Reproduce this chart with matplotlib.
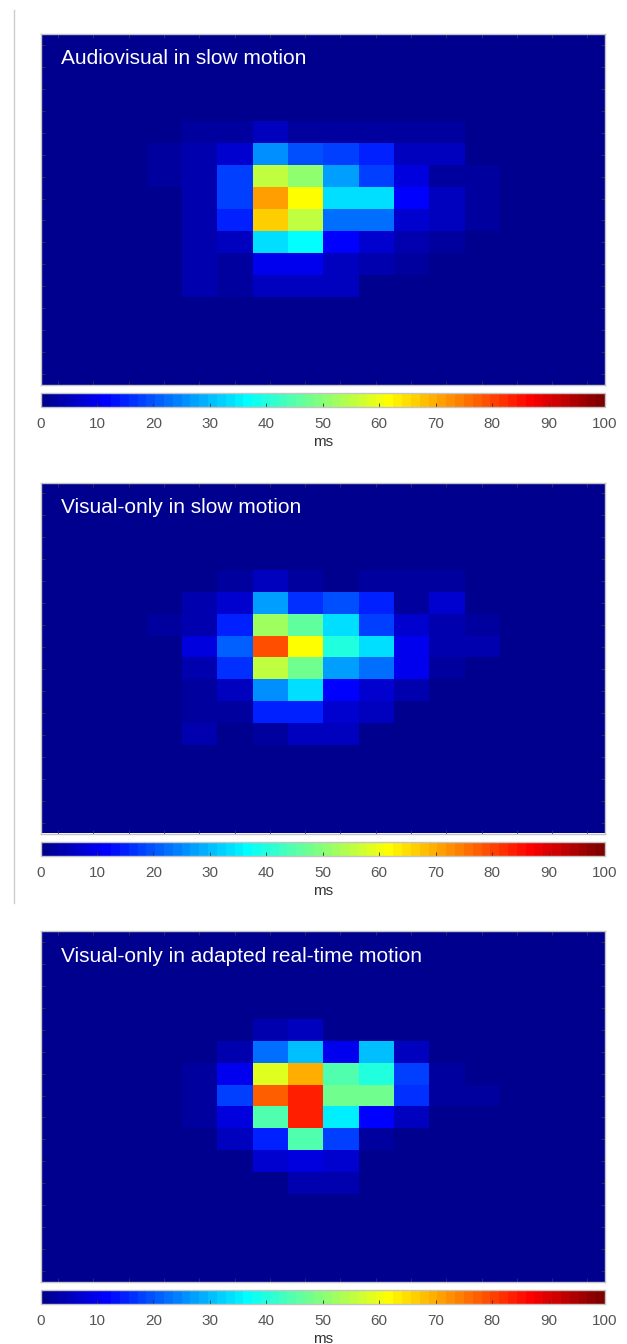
import numpy as np
import matplotlib
matplotlib.use("Agg")
import matplotlib.pyplot as plt
from matplotlib.colors import LinearSegmentedColormap, ListedColormap
from matplotlib.lines import Line2D

plt.rcParams['font.family'] = ['Liberation Sans', 'DejaVu Sans']

titles = ["Audiovisual in slow motion",
          "Visual-only in slow motion",
          "Visual-only in adapted real-time motion"]

colorbar_ticks = [0, 10, 20, 30, 40, 50, 60, 70, 80, 90, 100]
colorbar_label = "ms"

# 16 x 16 grids (rows top->bottom, columns left->right), values in ms
z = [0] * 16
audiovisual_slow = [
    z, z, z, z,
    [0, 0, 0, 0, 2.5, 2.5, 5.5, 2.5, 2.5, 2.5, 2.5, 2.5, 0, 0, 0, 0],
    [0, 0, 0, 2.5, 4, 7, 26, 20, 17.5, 14.5, 5, 5.5, 0, 0, 0, 0],
    [0, 0, 0, 2.5, 4, 18.5, 55, 51.5, 28, 17.5, 9, 2.5, 2.5, 0, 0, 0],
    [0, 0, 0, 0, 4, 17.5, 71, 61, 34, 34, 11.5, 5.5, 2.5, 0, 0, 0],
    [0, 0, 0, 0, 4, 14.5, 67, 55, 23.3, 23.3, 7, 5, 2.5, 0, 0, 0],
    [0, 0, 0, 0, 4, 5, 34, 36, 11.5, 7, 4, 2.5, 0, 0, 0, 0],
    [0, 0, 0, 0, 4, 2.5, 10, 10, 5.5, 4, 2.5, 0, 0, 0, 0, 0],
    [0, 0, 0, 0, 4, 2.5, 5, 5.5, 5.5, 0, 0, 0, 0, 0, 0, 0],
    z, z, z, z,
]
visual_slow = [
    z, z, z, z,
    [0, 0, 0, 0, 0, 2.5, 5, 2.5, 1, 2.5, 2.5, 2.5, 0, 0, 0, 0],
    [0, 0, 0, 0, 4, 7, 27, 16.4, 20.3, 15.4, 2.5, 7, 0, 0, 0, 0],
    [0, 0, 0, 2.5, 4, 15.4, 51.7, 45.8, 33, 17.4, 7, 4, 2.5, 0, 0, 0],
    [0, 0, 0, 0, 8.6, 21.3, 78.7, 61, 39.5, 34, 9.4, 4, 4, 0, 0, 0],
    [0, 0, 0, 0, 4, 16.4, 55, 47.3, 28, 23.3, 10, 2.5, 0, 0, 0, 0],
    [0, 0, 0, 0, 2.5, 5, 26, 33, 11.5, 7, 4, 0, 0, 0, 0, 0],
    [0, 0, 0, 0, 2.5, 2.5, 15.4, 15.4, 7, 5.5, 0, 0, 0, 0, 0, 0],
    [0, 0, 0, 0, 4, 1, 2.5, 5, 5, 0, 0, 0, 0, 0, 0, 0],
    z, z, z, z,
]
visual_realtime = [
    z, z, z, z,
    [0, 0, 0, 0, 0, 0, 4, 5, 0, 0, 0, 0, 0, 0, 0, 0],
    [0, 0, 0, 0, 0, 4, 23.3, 31, 10, 31, 5.5, 0, 0, 0, 0, 0],
    [0, 0, 0, 0, 2.5, 10, 59, 69, 44.4, 39.5, 17.4, 2.5, 0, 0, 0, 0],
    [0, 0, 0, 0, 2.5, 18.4, 76.7, 83.6, 47.3, 47.3, 16.4, 2.5, 2.5, 0, 0, 0],
    [0, 0, 0, 0, 2.5, 9, 44.4, 83.6, 35, 11.5, 5.5, 0, 0, 0, 0, 0],
    [0, 0, 0, 0, 0, 5, 14.5, 44.4, 17.4, 2.5, 1, 0, 0, 0, 0, 0],
    [0, 0, 0, 0, 0, 0, 7, 8.6, 7, 0, 0, 0, 0, 0, 0, 0],
    [0, 0, 0, 0, 0, 0, 1, 4, 4, 0, 0, 0, 0, 0, 0, 0],
    z, z, z, z,
]
panels = [audiovisual_slow, visual_slow, visual_realtime]

# MATLAB-style jet(64)
_jet = {
    'red':   [(0, 0, 0), (0.375, 0, 0), (0.625, 1, 1), (0.875, 1, 1), (1, 0.5, 0.5)],
    'green': [(0, 0, 0), (0.125, 0, 0), (0.375, 1, 1), (0.625, 1, 1), (0.875, 0, 0), (1, 0, 0)],
    'blue':  [(0, 0.5, 0.5), (0.125, 1, 1), (0.375, 1, 1), (0.625, 0, 0), (1, 0, 0)],
}
base = LinearSegmentedColormap('mjet', _jet, N=1024)
cmap = ListedColormap(base(np.arange(1, 65) / 64.0)[:, :3], name='mjet64')

W, H = 627, 1344
fig = plt.figure(figsize=(W / 100, H / 100), dpi=100)

left_px, right_px = 40.5, 605
panel_tops = [34, 482.5, 931]
panel_h = 351


def fx(px):
    return px / W


def fy(py):
    return 1 - py / H


spine_col = '#c4c4c4'
tick_col = '#30305a'

for data, title, top in zip(panels, titles, panel_tops):
    arr = np.array(data, dtype=float)
    ax = fig.add_axes([fx(left_px), fy(top + panel_h), fx(right_px - left_px), panel_h / H])
    im = ax.imshow(arr, cmap=cmap, vmin=0, vmax=100, aspect='auto',
                   interpolation='nearest', extent=(0.5, 16.5, 16.5, 0.5))
    ax.set_xticks(np.arange(1, 17))
    ax.set_yticks(np.arange(1, 17))
    ax.tick_params(direction='in', length=3, width=0.6, color=tick_col,
                   top=True, right=True, labelbottom=False, labelleft=False)
    for s in ax.spines.values():
        s.set_color(spine_col)
        s.set_linewidth(1.0)
    ax.text(20 / (right_px - left_px), 1 - 30.5 / panel_h, title,
            transform=ax.transAxes, color='white', fontsize=15,
            ha='left', va='baseline')

    cb_top = top + 359.3
    cax = fig.add_axes([fx(left_px), fy(cb_top + 14), fx(right_px - left_px), 14 / H])
    cb = fig.colorbar(im, cax=cax, orientation='horizontal', ticks=colorbar_ticks)
    cb.outline.set_edgecolor(spine_col)
    cb.outline.set_linewidth(1.0)
    cax.tick_params(direction='in', length=3, width=0.6, color='#333333',
                    labelsize=11, labelcolor='#555555', pad=7)
    cax.set_xlabel(colorbar_label, fontsize=11, color='#333333', labelpad=3)

fig.add_artist(Line2D([fx(13.5), fx(13.5)], [fy(10), fy(903)], color='#cccccc', lw=1))

fig.savefig("out.png", dpi=100, facecolor='white')
